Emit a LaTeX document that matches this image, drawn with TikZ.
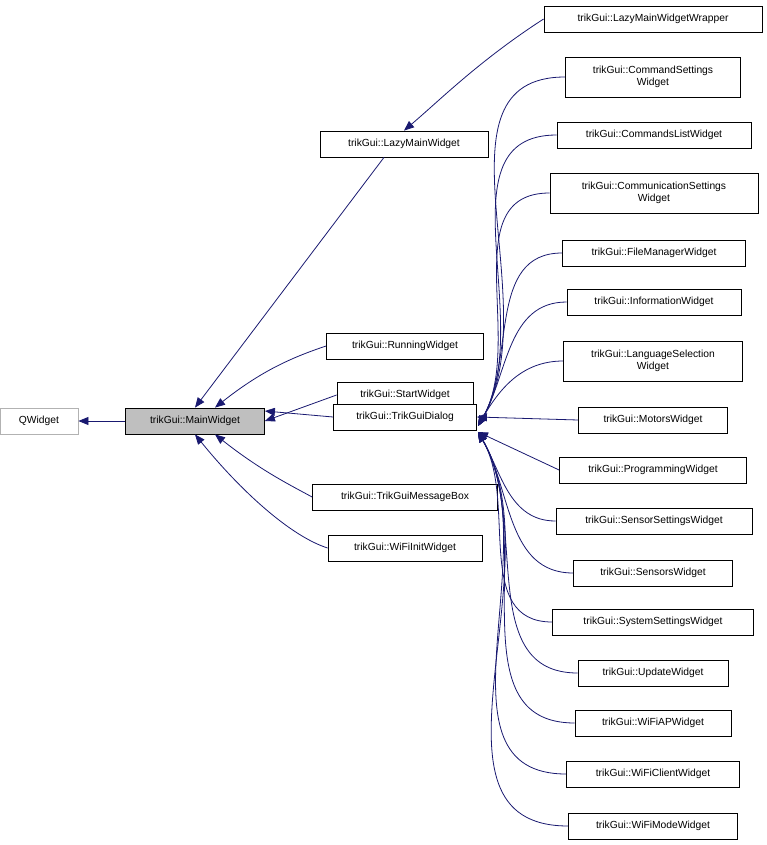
\documentclass[tikz,border=0pt]{standalone}
\usepackage{fontspec}
\setmainfont{Liberation Sans}
\usetikzlibrary{arrows.meta}
\definecolor{navy}{HTML}{191970}
\begin{document}
\begin{tikzpicture}[x=1pt,y=-1pt,
 box/.style={draw=black,line width=0.8pt,fill=white,inner sep=0pt,font=\fontsize{10.3}{12}\selectfont,align=center},
 edge/.style={draw=navy,line width=0.8pt,-{Triangle[length=10pt,width=8pt,fill=navy]}}]
\useasboundingbox (0,0) rectangle (767,845);
\node[box,draw=gray!60,minimum width=78,minimum height=26] (qw) at (39,421) {QWidget};
\node[box,fill=gray!50,minimum width=139,minimum height=26] (mw) at (195,421) {trikGui::MainWidget};
\node[box,minimum width=168,minimum height=26] (lazy) at (404,144) {trikGui::LazyMainWidget};
\node[box,minimum width=157,minimum height=26] (run) at (405,346) {trikGui::RunningWidget};
\node[box,minimum width=136,minimum height=26] (start) at (405,395) {trikGui::StartWidget};
\node[box,minimum width=143,minimum height=26] (dlg) at (405,417) {trikGui::TrikGuiDialog};
\node[box,minimum width=185,minimum height=26] (msg) at (405,497) {trikGui::TrikGuiMessageBox};
\node[box,minimum width=154,minimum height=26] (wfi) at (405,548) {trikGui::WiFiInitWidget};
\node[box,minimum width=218,minimum height=26] (lmw) at (653,19) {trikGui::LazyMainWidgetWrapper};
\node[box,minimum width=175,minimum height=40] (c1) at (653,77) {trikGui::CommandSettings\\Widget};
\node[box,minimum width=194,minimum height=26] (c2) at (654,135) {trikGui::CommandsListWidget};
\node[box,minimum width=208,minimum height=40] (c3) at (654,193) {trikGui::CommunicationSettings\\Widget};
\node[box,minimum width=183,minimum height=26] (c4) at (654,253) {trikGui::FileManagerWidget};
\node[box,minimum width=174,minimum height=26] (c5) at (654,302) {trikGui::InformationWidget};
\node[box,minimum width=179,minimum height=40] (c6) at (653,361) {trikGui::LanguageSelection\\Widget};
\node[box,minimum width=149,minimum height=26] (c7) at (653,420) {trikGui::MotorsWidget};
\node[box,minimum width=187,minimum height=26] (c8) at (653,470) {trikGui::ProgrammingWidget};
\node[box,minimum width=196,minimum height=26] (c9) at (654,521) {trikGui::SensorSettingsWidget};
\node[box,minimum width=159,minimum height=26] (c10) at (653,573) {trikGui::SensorsWidget};
\node[box,minimum width=201,minimum height=26] (c11) at (653,622) {trikGui::SystemSettingsWidget};
\node[box,minimum width=150,minimum height=26] (c12) at (653,673) {trikGui::UpdateWidget};
\node[box,minimum width=156,minimum height=26] (c13) at (653,723) {trikGui::WiFiAPWidget};
\node[box,minimum width=173,minimum height=26] (c14) at (653,774) {trikGui::WiFiClientWidget};
\node[box,minimum width=169,minimum height=26] (c15) at (653,826) {trikGui::WiFiModeWidget};
\coordinate (dt) at (478,426);
\coordinate (db) at (478,432);
\draw[edge] (mw) -- (qw);
\draw[edge] (lazy.south) ++(-20,0) coordinate (ls) (ls) -- (mw.north);
\draw[edge] (lmw.west) .. controls (480,60) and (440,100) .. (lazy.north);
\draw[edge] (run.west) .. controls (290,358) and (260,372) .. ([xshift=20]mw.north);
\draw[edge] (start.west) -- (mw.east);
\draw[edge] (dlg.west) -- ([yshift=10]mw.east);
\draw[edge] (msg.west) .. controls (290,485) and (260,470) .. ([xshift=20]mw.south);
\draw[edge] (wfi.west) .. controls (290,536) and (240,490) .. (mw.south);
\foreach \c in {c1,c2,c3,c4,c5,c6}{
 \draw[edge] (\c.west) to[out=180,in=60] (dt);}
\draw[edge] (c7.west) -- (dlg.east);
\draw[edge] (c8.west) -- (db);
\foreach \c in {c9,c10,c11,c12,c13,c14,c15}{
 \draw[edge] (\c.west) to[out=180,in=-60] (db);}
\end{tikzpicture}
\end{document}
